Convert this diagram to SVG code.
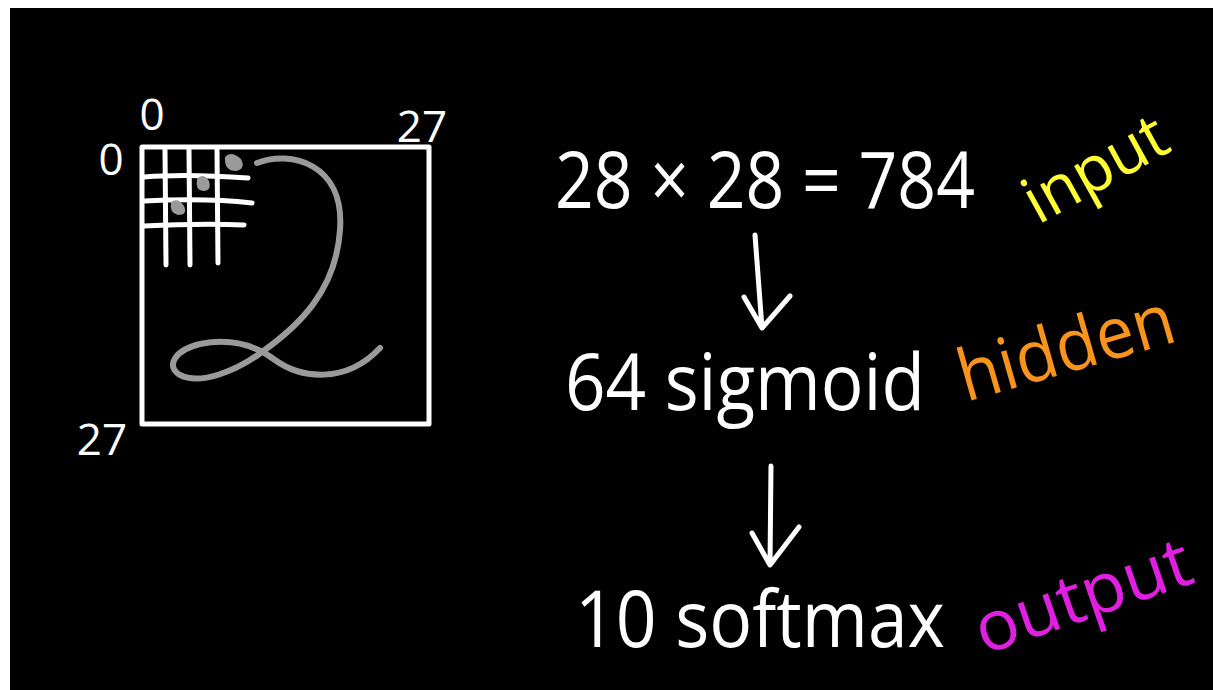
<svg xmlns="http://www.w3.org/2000/svg" width="1213" height="690" viewBox="0 0 1213 690">
  <style>
    .chalk { fill: none; stroke: #ffffff; stroke-width: 5; stroke-linecap: round; stroke-linejoin: round; }
    .gray { fill: none; stroke: #9a9a9a; stroke-width: 6; stroke-linecap: round; stroke-linejoin: round; }
    .t { font-family: "Open Sans", "Liberation Sans", sans-serif; fill: #ffffff; }
    .big { font-size: 78px; }
    .small { font-size: 44px; }
  </style>
  <rect x="0" y="0" width="1213" height="690" fill="#ffffff"/>
  <rect x="10" y="8" width="1203" height="682" fill="#000000"/>

  <g id="image-grid">
    <rect x="142" y="147" width="287" height="277" class="chalk"/>
    <path class="chalk" d="M165 150 L166 265 M189 150 L190 265 M217 150 L218 263"/>
    <path class="chalk" d="M144 177 C180 174 220 176 248 178 M144 201 C185 199 225 200 252 203 M144 226 C185 224 220 224 244 225"/>
    <path fill="#9a9a9a" d="M225 157 Q231 150 241 159 Q246 169 236 171 Q224 171 225 157 Z M197 179 Q203 172 209 181 Q212 191 203 191 Q195 190 197 179 Z M171 202 Q178 197 184 206 Q188 215 178 215 Q169 213 171 202 Z"/>
    <path class="gray" d="M257 163 C290 150 345 163 340 230 C336 290 300 325 262 352 C235 372 200 385 180 375 C165 366 175 350 200 344 C230 338 255 345 275 360 C300 378 345 385 380 348"/>
  </g>

  <g id="axis-labels">
    <text class="t small" x="152" y="130" text-anchor="middle">0</text>
    <text class="t small" x="111" y="175" text-anchor="middle">0</text>
    <text class="t small" x="422" y="142" text-anchor="middle">27</text>
    <text class="t small" x="102" y="455" text-anchor="middle">27</text>
  </g>

  <g id="node-input">
    <text class="t big" x="555" y="208" textLength="420" lengthAdjust="spacingAndGlyphs">28 × 28 = 784</text>
    <text class="t" font-size="64" style="fill:#ffff33" transform="translate(1038 225) rotate(-29)" textLength="155" lengthAdjust="spacingAndGlyphs">input</text>
  </g>

  <g id="node-hidden">
    <text class="t big" x="565" y="410" textLength="360" lengthAdjust="spacingAndGlyphs">64 sigmoid</text>
    <text class="t" font-size="72" style="fill:#f7941d" transform="translate(966 402) rotate(-16)" textLength="222" lengthAdjust="spacingAndGlyphs">hidden</text>
  </g>

  <g id="node-output">
    <text class="t big" x="575" y="647" textLength="370" lengthAdjust="spacingAndGlyphs">10 softmax</text>
    <text class="t" font-size="70" style="fill:#e020e0" transform="translate(984 655) rotate(-19)" textLength="225" lengthAdjust="spacingAndGlyphs">output</text>
  </g>

  <g id="connectors">
    <path class="chalk" stroke-width="6" d="M755 235 L762 328 M744 297 L762 328 L790 296"/>
    <path class="chalk" stroke-width="6" d="M771 466 L770 565 M752 533 L770 565 L799 527"/>
  </g>
</svg>
